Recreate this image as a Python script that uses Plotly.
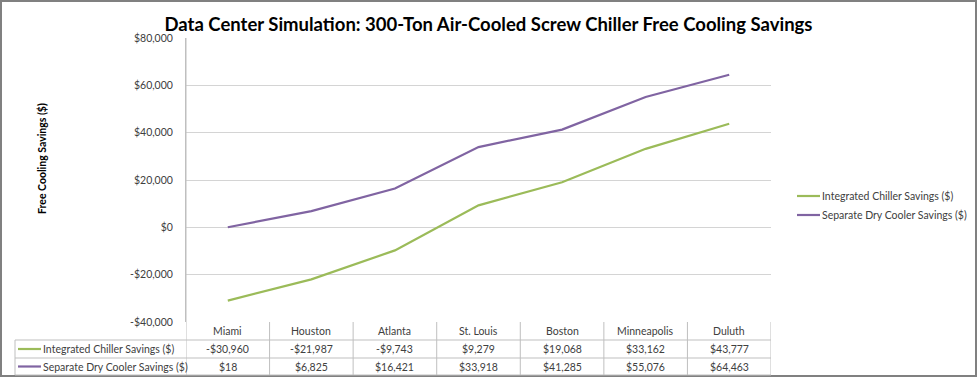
import plotly.graph_objects as go

cities = ["Miami", "Houston", "Atlanta", "St. Louis", "Boston", "Minneapolis", "Duluth"]
integrated = [-30960, -21987, -9743, 9279, 19068, 33162, 43777]
separate = [18, 6825, 16421, 33918, 41285, 55076, 64463]
series_names = ["Integrated Chiller Savings ($)", "Separate Dry Cooler Savings ($)"]
series_colors = ["#9BBB59", "#8064A2"]
tick_vals = [-40000, -20000, 0, 20000, 40000, 60000, 80000]
tick_text = ["-$40,000", "-$20,000", "$0", "$20,000", "$40,000", "$60,000", "$80,000"]

W, H = 977, 377
L, R, T, B = 186, 771, 38, 322
FONT = "Lato"
GRID = "#D4D4D4"
TXT = "#404040"

def px(xp):
    return (xp - L) / (R - L)

def py(yp):
    return (B - yp) / (B - T)

def fmt(v):
    return ("-$" if v < 0 else "$") + f"{abs(v):,}"

fig = go.Figure()
for name, vals, col in zip(series_names, [integrated, separate], series_colors):
    fig.add_trace(go.Scatter(x=cities, y=vals, name=name, mode="lines",
                             line=dict(color=col, width=2.2), showlegend=False))

shapes = []
annotations = []

def note(**kw):
    kw.setdefault("showarrow", False)
    kw.setdefault("yanchor", "middle")
    kw.setdefault("xanchor", "center")
    annotations.append(kw)

# outer border
shapes.append(dict(type="rect", xref="paper", yref="paper", x0=px(1), x1=px(976),
                   y0=py(376), y1=py(1), line=dict(color="#808080", width=2), layer="below"))

# table rows
row_tops = [322, 340, 358, 375]
for yline in row_tops[1:]:
    shapes.append(dict(type="line", xref="paper", yref="paper", x0=px(15), x1=1,
                       y0=py(yline), y1=py(yline), line=dict(color="#BFBFBF", width=1)))
shapes.append(dict(type="line", xref="paper", yref="paper", x0=px(15), x1=px(15),
                   y0=py(340), y1=py(375), line=dict(color="#BFBFBF", width=1)))
for i in range(len(cities) + 1):
    shapes.append(dict(type="line", xref="x", yref="paper", x0=i - 0.5, x1=i - 0.5,
                       y0=py(375), y1=py(322) if i > 0 else 1,
                       line=dict(color="#BFBFBF", width=1)))

# header
for c in cities:
    note(x=c, xref="x", y=py(331), yref="paper", text=c,
         font=dict(family=FONT, size=10.5, color=TXT))
for r, (name, vals, col) in enumerate(zip(series_names, [integrated, separate], series_colors)):
    yc = 349 + 17.5 * r
    shapes.append(dict(type="line", xref="paper", yref="paper", x0=px(18), x1=px(41),
                       y0=py(yc), y1=py(yc), line=dict(color=col, width=2.2)))
    note(x=px(41), xref="paper", y=py(yc), yref="paper", text=name, xanchor="left",
         font=dict(family=FONT, size=10.5, color=TXT))
    for c, v in zip(cities, vals):
        note(x=c, xref="x", y=py(yc), yref="paper", text=fmt(v),
             font=dict(family=FONT, size=10.5, color=TXT))
    # legend (right side)
    ly = 196 + 19 * r
    shapes.append(dict(type="line", xref="paper", yref="paper", x0=px(797), x1=px(820),
                       y0=py(ly), y1=py(ly), line=dict(color=col, width=2.2)))
    note(x=px(820), xref="paper", y=py(ly), yref="paper", text=name, xanchor="left",
         font=dict(family=FONT, size=10.5, color=TXT))

# axis title
note(x=px(42), xref="paper", y=py(159), yref="paper",
     text="<b>Free Cooling Savings ($)</b>", textangle=-90,
     font=dict(family=FONT, size=10.5, color="#000000"))

fig.update_layout(
    width=W, height=H,
    margin=dict(l=L, r=W - R, t=T, b=H - B, pad=0),
    paper_bgcolor="white", plot_bgcolor="white",
    title=dict(text="<b>Data Center Simulation: 300-Ton Air-Cooled Screw Chiller Free Cooling Savings</b>",
               x=0.5, xanchor="center", y=1 - 25 / H, yanchor="middle",
               font=dict(family=FONT, size=18.5, color="#000000")),
    xaxis=dict(type="category", range=[-0.5, 6.5], showticklabels=False, showgrid=False,
               zeroline=False, showline=False, fixedrange=True),
    yaxis=dict(range=[-40000, 80000], tickvals=tick_vals, ticktext=tick_text,
               showgrid=True, gridcolor=GRID, gridwidth=1.3, zeroline=False,
               showline=True, linecolor="#BFBFBF", linewidth=1,
               ticks="", ticklabelstandoff=10,
               tickfont=dict(family=FONT, size=10.5, color=TXT)),
    showlegend=False,
    shapes=shapes, annotations=annotations,
)

fig.write_html("out.html", config={"displayModeBar": False},
               post_script="document.body.style.margin='0';document.body.style.padding='0';"
                           "document.body.style.overflow='hidden';")
